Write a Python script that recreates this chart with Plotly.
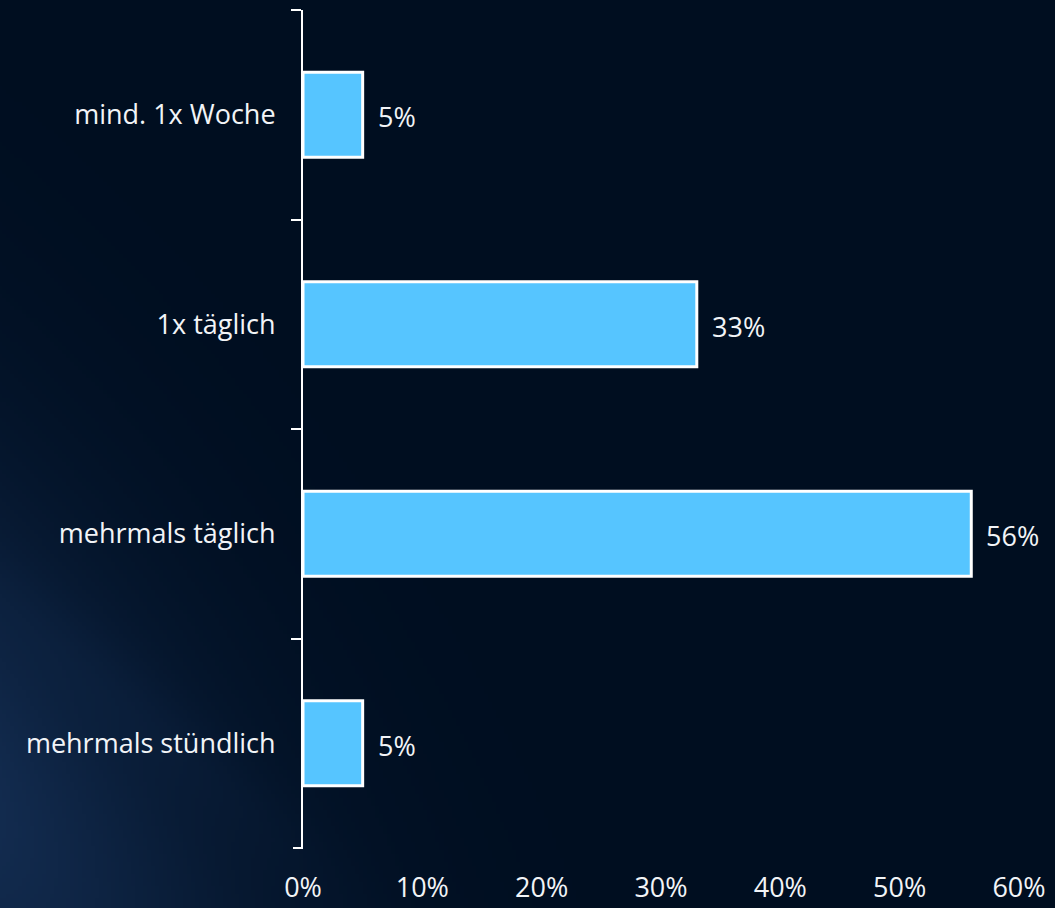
import base64
import struct
import zlib

import numpy as np
import plotly.graph_objects as go

# Survey answers, top to bottom
categories = ["mind. 1x Woche", "1x täglich", "mehrmals täglich", "mehrmals stündlich"]
shares = [5, 33, 56, 5]
x_ticks = [0, 10, 20, 30, 40, 50, 60]
x_tick_labels = ["0%", "10%", "20%", "30%", "40%", "50%", "60%"]

W, H = 1055, 908
M_L, M_R, M_T, M_B = 303, 36, 10, 60
PLOT_W = W - M_L - M_R
PLOT_H = H - M_T - M_B

BAR_COLOR = "#56C5FF"
TEXT_COLOR = "#F2F4F7"
FONT = "Open Sans"
FONT_SIZE = 27


def png_data_uri(rgb):
    """Encode an (h, w, 3) uint8 array as a PNG data URI."""
    h, w, _ = rgb.shape
    raw = b"".join(b"\x00" + rgb[r].tobytes() for r in range(h))

    def chunk(tag, data):
        return (struct.pack(">I", len(data)) + tag + data
                + struct.pack(">I", zlib.crc32(tag + data) & 0xFFFFFFFF))

    png = (b"\x89PNG\r\n\x1a\n"
           + chunk(b"IHDR", struct.pack(">IIBBBBB", w, h, 8, 2, 0, 0, 0))
           + chunk(b"IDAT", zlib.compress(raw, 9))
           + chunk(b"IEND", b""))
    return "data:image/png;base64," + base64.b64encode(png).decode()


def backdrop():
    """Dark navy slide background with a soft blue glow in the lower left."""
    s = 4
    h, w = H // s, W // s
    yy, xx = np.mgrid[0:h, 0:w].astype(float)
    x = xx * s
    y = yy * s
    base = np.array([0, 14, 32], float)
    glow_col = np.array([28, 58, 102], float)
    # broad rotated glow rising from the lower-left corner
    ang = np.deg2rad(-55)
    dx, dy = x - (-80), y - 760
    u = dx * np.cos(ang) - dy * np.sin(ang)
    v = dx * np.sin(ang) + dy * np.cos(ang)
    g = np.exp(-((u / 440) ** 2 + (v / 220) ** 2) ** 0.8)
    # faint diagonal streaks
    streak = 0.12 * np.exp(-(((x * 0.9 + (H - y)) - 330) / 50) ** 2)
    streak *= np.clip(1 - x / 420, 0, 1) * np.clip((y - 500) / 250, 0, 1)
    t = np.clip(g * 0.75 + streak, 0, 1)[..., None]
    img = base * (1 - t) + glow_col * t
    return np.clip(img, 0, 255).astype(np.uint8)


fig = go.Figure()

fig.add_trace(go.Bar(
    x=shares,
    y=categories,
    orientation="h",
    width=0.405,
    marker=dict(color=BAR_COLOR, line=dict(color="white", width=3)),
    hoverinfo="skip",
    showlegend=False,
))

# value labels to the right of each bar
for cat, val in zip(categories, shares):
    fig.add_annotation(
        x=val, y=cat, text=f"{val}%", showarrow=False,
        xanchor="left", yanchor="middle", xshift=13, yshift=-2,
        font=dict(family=FONT, size=FONT_SIZE, color=TEXT_COLOR),
    )

# closing tick at the lower end of the category axis
fig.add_shape(
    type="line", xref="paper", yref="paper",
    x0=-10 / PLOT_W, x1=0, y0=0, y1=0,
    line=dict(color="white", width=2),
)

fig.add_layout_image(dict(
    source=png_data_uri(backdrop()),
    xref="paper", yref="paper",
    x=-M_L / PLOT_W, y=1 + M_T / PLOT_H,
    sizex=W / PLOT_W, sizey=H / PLOT_H,
    xanchor="left", yanchor="top",
    sizing="stretch", layer="below",
))

fig.update_layout(
    width=W, height=H,
    margin=dict(l=M_L, r=M_R, t=M_T, b=M_B, pad=0, autoexpand=False),
    paper_bgcolor="#000E20",
    plot_bgcolor="rgba(0,0,0,0)",
    font=dict(family=FONT, color=TEXT_COLOR, size=FONT_SIZE),
    bargap=0.595,
)

fig.update_xaxes(
    range=[0, 60],
    tickvals=x_ticks, ticktext=x_tick_labels,
    showgrid=False, zeroline=False, showline=False,
    ticks="outside", ticklen=16, tickcolor="rgba(0,0,0,0)",
    tickfont=dict(family=FONT, size=FONT_SIZE, color=TEXT_COLOR),
    automargin=False, fixedrange=True,
)

fig.update_yaxes(
    categoryorder="array", categoryarray=categories,
    autorange="reversed",
    showgrid=False, zeroline=False,
    showline=True, linecolor="white", linewidth=2,
    ticks="outside", tickson="boundaries", ticklen=10,
    tickcolor="white", tickwidth=2,
    ticklabelstandoff=20,
    tickfont=dict(family=FONT, size=FONT_SIZE, color=TEXT_COLOR),
    automargin=False, fixedrange=True,
)

fig.write_html("out.html")
